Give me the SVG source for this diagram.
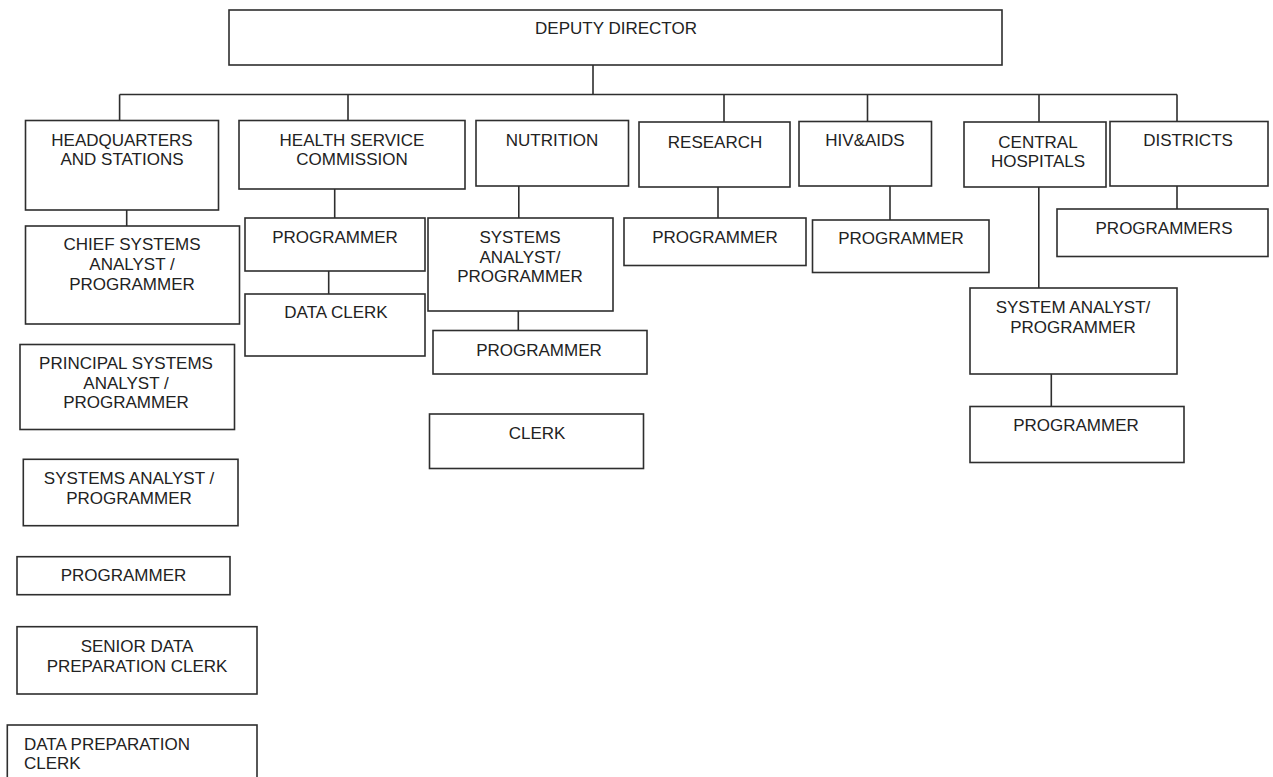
<svg xmlns="http://www.w3.org/2000/svg" width="1273" height="777" viewBox="0 0 1273 777">
<style>
.b{fill:#fff;stroke:#2e2e2e;stroke-width:1.6}
.c{fill:none;stroke:#2e2e2e;stroke-width:1.6}
text{font-family:"Liberation Sans",Arial,sans-serif;font-size:17px;fill:#222;text-anchor:middle}
.l{text-anchor:start}
</style>
<rect width="1273" height="777" fill="#fff"/>
<g id="connectors">
<path class="c" d="M593,65V94.5M119.6,94.5H1177M119.6,94.5V120.5M348,94.5V120.5M724,94.5V122M867.5,94.5V121.5M1039,94.5V122M1177,94.5V121.5"/>
<path class="c" d="M126.7,210V226M334.7,189V218M328.7,271V294M518.8,186V218M518.3,311V330.5M718,187V218M890,186V220M1038.8,187V288M1051.3,374V406.5M1177,186V209"/>
</g>
<g id="deputy"><rect class="b" x="229" y="10" width="773" height="55"/><text x="616" y="34">DEPUTY DIRECTOR</text></g>
<g id="hq"><rect class="b" x="25.5" y="120.5" width="193" height="89.5"/><text x="122" y="145.5">HEADQUARTERS</text><text x="122" y="165">AND STATIONS</text></g>
<g id="hsc"><rect class="b" x="239" y="120.5" width="226" height="68.5"/><text x="352" y="145.5">HEALTH SERVICE</text><text x="352" y="165">COMMISSION</text></g>
<g id="nutrition"><rect class="b" x="476" y="120.5" width="152.5" height="65.5"/><text x="552" y="145.5">NUTRITION</text></g>
<g id="research"><rect class="b" x="639" y="122" width="151" height="65"/><text x="715" y="148">RESEARCH</text></g>
<g id="hiv"><rect class="b" x="799" y="121.5" width="132.5" height="64.5"/><text x="865" y="145.5">HIV&amp;AIDS</text></g>
<g id="central"><rect class="b" x="964" y="122" width="142" height="65"/><text x="1038" y="147.7">CENTRAL</text><text x="1038" y="166.7">HOSPITALS</text></g>
<g id="districts"><rect class="b" x="1110" y="121.5" width="158" height="64.5"/><text x="1188" y="145.5">DISTRICTS</text></g>
<g id="hq-chief"><rect class="b" x="25.5" y="226" width="214" height="98"/><text x="132" y="250">CHIEF SYSTEMS</text><text x="132" y="270">ANALYST /</text><text x="132" y="289.5">PROGRAMMER</text></g>
<g id="hsc-prog"><rect class="b" x="245" y="218" width="180" height="53"/><text x="335" y="243.3">PROGRAMMER</text></g>
<g id="hsc-clerk"><rect class="b" x="245" y="294" width="180" height="62"/><text x="336" y="318.3">DATA CLERK</text></g>
<g id="nut-sa"><rect class="b" x="428" y="218" width="185" height="93"/><text x="520" y="243.3">SYSTEMS</text><text x="520" y="262.7">ANALYST/</text><text x="520" y="282">PROGRAMMER</text></g>
<g id="nut-prog"><rect class="b" x="433" y="330.5" width="214" height="43.5"/><text x="539" y="356">PROGRAMMER</text></g>
<g id="nut-clerk"><rect class="b" x="429.5" y="414" width="214" height="54.5"/><text x="537" y="438.7">CLERK</text></g>
<g id="res-prog"><rect class="b" x="624" y="218" width="182" height="47.5"/><text x="715" y="243.3">PROGRAMMER</text></g>
<g id="hiv-prog"><rect class="b" x="812.5" y="220" width="176.5" height="52.5"/><text x="901" y="244.3">PROGRAMMER</text></g>
<g id="dist-prog"><rect class="b" x="1057" y="209" width="211" height="47.5"/><text x="1164" y="234.3">PROGRAMMERS</text></g>
<g id="cen-sa"><rect class="b" x="970" y="288" width="207" height="86"/><text x="1073" y="313.3">SYSTEM ANALYST/</text><text x="1073" y="332.7">PROGRAMMER</text></g>
<g id="cen-prog"><rect class="b" x="970" y="406.5" width="214" height="56"/><text x="1076" y="431">PROGRAMMER</text></g>
<g id="hq-principal"><rect class="b" x="20" y="344.5" width="214.5" height="85"/><text x="126" y="369.3">PRINCIPAL SYSTEMS</text><text x="126" y="388.7">ANALYST /</text><text x="126" y="408.3">PROGRAMMER</text></g>
<g id="hq-sa"><rect class="b" x="23.3" y="459.3" width="214.7" height="66.4"/><text x="129" y="484.3">SYSTEMS ANALYST /</text><text x="129" y="503.7">PROGRAMMER</text></g>
<g id="hq-prog"><rect class="b" x="17" y="556.7" width="213" height="38"/><text x="123.5" y="581">PROGRAMMER</text></g>
<g id="hq-senior"><rect class="b" x="17" y="626.7" width="240" height="67.3"/><text x="137" y="651.7">SENIOR DATA</text><text x="137" y="671.7">PREPARATION CLERK</text></g>
<g id="hq-dpc"><rect class="b" x="7.3" y="725" width="249.7" height="70"/><text class="l" x="24" y="750">DATA PREPARATION</text><text class="l" x="24" y="769.3">CLERK</text></g>
</svg>
